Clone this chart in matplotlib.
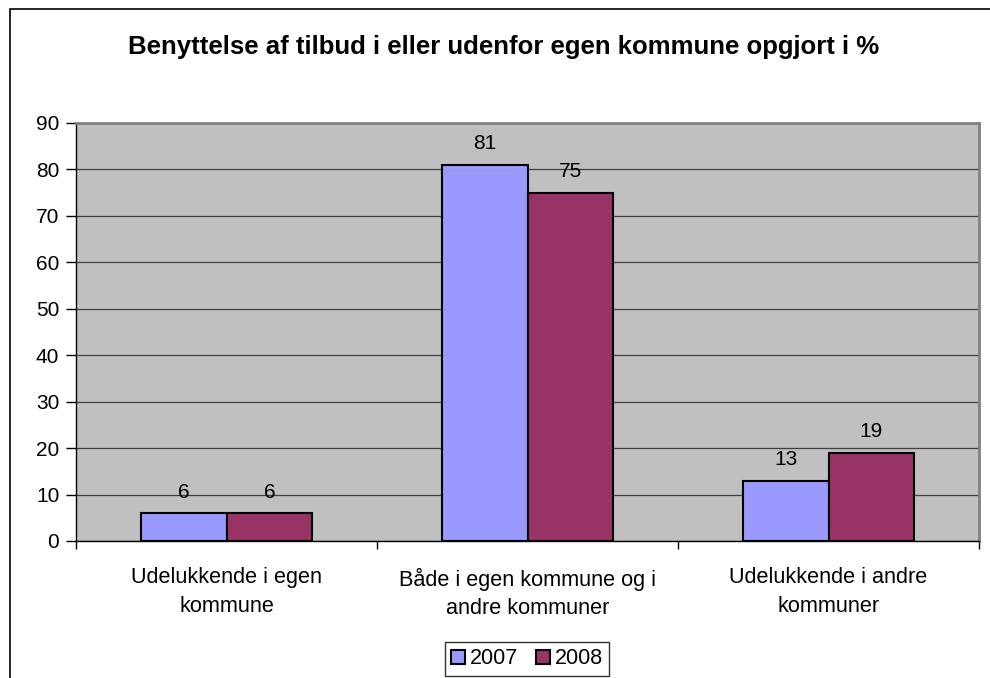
import matplotlib
matplotlib.use("Agg")
import matplotlib.pyplot as plt
import numpy as np
from matplotlib.patches import Rectangle

plt.rcParams['font.family'] = ['Liberation Sans', 'DejaVu Sans']

categories = ["Udelukkende i egen\nkommune", "Både i egen kommune og i\nandre kommuner", "Udelukkende i andre\nkommuner"]
series_names = ["2007", "2008"]
values_2007 = [6, 81, 13]
values_2008 = [6, 75, 19]
yticks = [0, 10, 20, 30, 40, 50, 60, 70, 80, 90]
title = "Benyttelse af tilbud i eller udenfor egen kommune opgjort i %"

fig = plt.figure(figsize=(9.9, 6.78), dpi=100)
fig.patch.set_facecolor('white')
# outer chart frame (extends beyond image on right/bottom)
fig.add_artist(Rectangle((10/990, -0.05), 1.1, 1 - 9/678 + 0.05, transform=fig.transFigure,
                         fill=False, edgecolor='black', linewidth=1.2))

ax = fig.add_axes([76/990, 1 - 541/678, (979 - 76)/990, (541 - 123)/678])
ax.set_facecolor('#C0C0C0')

x = np.arange(len(categories))
w = 0.2857
b1 = ax.bar(x - w/2, values_2007, w, color='#9999FF', edgecolor='black', linewidth=1.5, zorder=3, label=series_names[0])
b2 = ax.bar(x + w/2, values_2008, w, color='#993366', edgecolor='black', linewidth=1.5, zorder=3, label=series_names[1])

for bars, vals in ((b1, values_2007), (b2, values_2008)):
    for r, v in zip(bars, vals):
        ax.text(r.get_x() + r.get_width()/2, v + 3.3, str(v), ha='center', va='baseline', fontsize=15, zorder=4)

ax.set_xlim(-0.5, len(categories) - 0.5)
ax.set_ylim(0, 90)
ax.set_yticks(yticks)
ax.tick_params(axis='y', labelsize=15, length=7, width=1, direction='out', pad=5)
ax.yaxis.grid(True, color='#404040', linewidth=0.9, zorder=1)
ax.set_axisbelow(True)

# category labels and boundary ticks
ax.set_xticks(x)
ax.set_xticklabels(categories, fontsize=15.6, linespacing=1.45)
ax.tick_params(axis='x', length=0, pad=19)
ax.set_xticks(np.arange(-0.5, len(categories)), minor=True)
ax.tick_params(axis='x', which='minor', length=6, width=1, direction='out')

for s in ('top', 'right'):
    ax.spines[s].set_color('#808080')
    ax.spines[s].set_linewidth(2)
ax.spines['left'].set_color('black')
ax.spines['bottom'].set_color('black')
ax.spines['left'].set_linewidth(1)
ax.spines['bottom'].set_linewidth(1)

fig.text(504/990, 1 - 47/678, title, ha='center', va='center', fontsize=18.5, fontweight='bold')

leg = fig.legend(handles=[b1, b2], labels=series_names, loc='center', bbox_to_anchor=(527/990, 1 - 659/678),
                 ncol=2, fontsize=15.5, frameon=True, fancybox=False, edgecolor='black',
                 handlelength=0.65, handleheight=0.65, handletextpad=0.2, columnspacing=0.85,
                 borderpad=0.28, borderaxespad=0)
leg.get_frame().set_linewidth(1)

fig.savefig('out.png', dpi=100)
